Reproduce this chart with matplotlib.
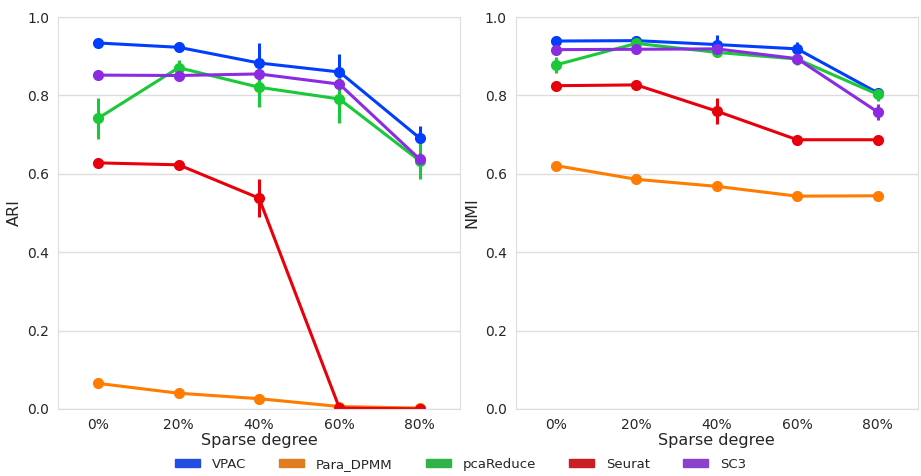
import numpy as np
import matplotlib
matplotlib.use("Agg")
import matplotlib.pyplot as plt
import matplotlib.patches as mpatches
import seaborn as sns

sns.set_style("whitegrid")
plt.rcParams['font.family'] = ['DejaVu Sans']

degrees = ["0%", "20%", "40%", "60%", "80%"]
methods = ["VPAC", "Para_DPMM", "pcaReduce", "Seurat", "SC3"]
colors = ["#023eff", "#ff7c00", "#1ac938", "#e8000b", "#8b2be2"]

# ARI means and error half-widths, one row per method
ari = {
    "VPAC":      [0.934, 0.923, 0.883, 0.860, 0.691],
    "Para_DPMM": [0.065, 0.040, 0.026, 0.006, 0.002],
    "pcaReduce": [0.742, 0.871, 0.821, 0.791, 0.633],
    "Seurat":    [0.628, 0.623, 0.538, 0.002, 0.000],
    "SC3":       [0.852, 0.851, 0.855, 0.829, 0.637],
}
ari_err = {
    "VPAC":      [0.004, 0.004, 0.051, 0.045, 0.030],
    "Para_DPMM": [0.004, 0.003, 0.003, 0.003, 0.001],
    "pcaReduce": [0.052, 0.020, 0.050, 0.060, 0.045],
    "Seurat":    [0.004, 0.004, 0.048, 0.002, 0.001],
    "SC3":       [0.003, 0.003, 0.004, 0.006, 0.015],
}

nmi = {
    "VPAC":      [0.939, 0.940, 0.930, 0.919, 0.807],
    "Para_DPMM": [0.621, 0.586, 0.568, 0.543, 0.544],
    "pcaReduce": [0.878, 0.933, 0.910, 0.893, 0.803],
    "Seurat":    [0.825, 0.827, 0.760, 0.687, 0.687],
    "SC3":       [0.917, 0.918, 0.919, 0.894, 0.758],
}
nmi_err = {
    "VPAC":      [0.003, 0.003, 0.024, 0.018, 0.006],
    "Para_DPMM": [0.003, 0.003, 0.003, 0.002, 0.002],
    "pcaReduce": [0.020, 0.004, 0.012, 0.016, 0.016],
    "Seurat":    [0.003, 0.003, 0.033, 0.003, 0.002],
    "SC3":       [0.003, 0.003, 0.004, 0.006, 0.020],
}

fig = plt.figure(figsize=(9.21, 4.76), dpi=100)
ax1 = fig.add_axes([0.063, 0.141, 0.4365, 0.823])
ax2 = fig.add_axes([0.560, 0.141, 0.4365, 0.823])

x = np.arange(len(degrees))

for ax, vals, errs, ylab in [(ax1, ari, ari_err, "ARI"), (ax2, nmi, nmi_err, "NMI")]:
    for m, c in zip(methods, colors):
        ax.errorbar(x, vals[m], yerr=errs[m], color=c, lw=2.2, elinewidth=2.2,
                    marker="o", ms=7, capsize=0)
    ax.set_xlim(-0.5, 4.5)
    ax.set_ylim(0, 1.0)
    ax.set_xticks(x)
    ax.set_xticklabels(degrees)
    ax.set_yticks([0, 0.2, 0.4, 0.6, 0.8, 1.0])
    ax.grid(axis="x", visible=False)
    ax.grid(axis="y", color="#dddddd", lw=1)
    for s in ax.spines.values():
        s.set_color("#dddddd")
    ax.tick_params(labelsize=10, colors="#262626", pad=3)
    ax.set_xlabel("Sparse degree", fontsize=11.5, color="#262626", labelpad=1)
    ax.set_ylabel(ylab, fontsize=11.5, color="#262626")

handles = [mpatches.Patch(color=sns.desaturate(c, 0.75), label=m)
           for m, c in zip(methods, colors)]
fig.legend(handles=handles, loc="center", bbox_to_anchor=(0.5, 0.025), ncol=5,
           frameon=False, fontsize=9.5, handlelength=1.9, handleheight=0.55,
           handletextpad=0.9, columnspacing=2.5)

fig.savefig("out.png", dpi=100)
